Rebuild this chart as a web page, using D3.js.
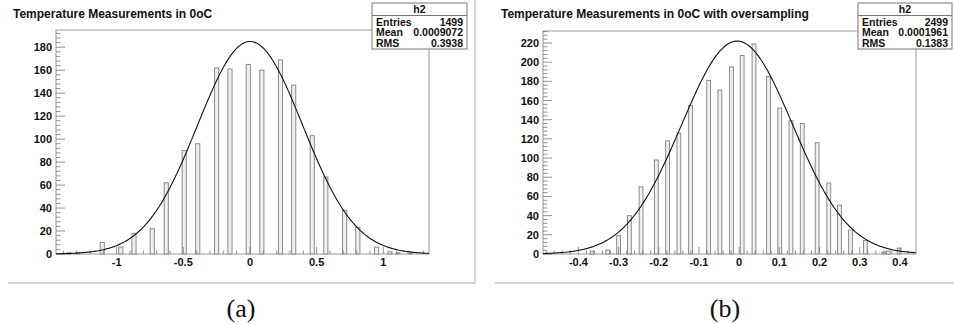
<!DOCTYPE html>
<html>
<head>
<meta charset="utf-8">
<script src="https://cdn.jsdelivr.net/npm/d3@7"></script>
<style>
  body { margin: 0; background: #fff; }
  svg { display: block; }
  .tick-label { font-family: "Liberation Sans", Arial, sans-serif; font-weight: bold; font-size: 11px; fill: #111; }
  .title { font-family: "Liberation Sans", Arial, sans-serif; font-weight: bold; font-size: 12px; fill: #111; }
  .stat { font-family: "Liberation Sans", Arial, sans-serif; font-weight: bold; font-size: 10.5px; fill: #111; }
  .caption { font-family: "Liberation Serif", "DejaVu Serif", serif; font-size: 26px; fill: #111; }
</style>
</head>
<body>
<div id="chart"></div>
<script>
// ---- panel (a): histogram without oversampling ----
const titleA = "Temperature Measurements in 0oC";
const binCentersA = [-1.36, -1.29, -1.108, -0.969, -0.870, -0.733, -0.628, -0.493, -0.392, -0.250,
  -0.150, -0.0125, 0.089, 0.229, 0.328, 0.467, 0.569, 0.710, 0.809, 0.950, 1.050, 1.11, 1.2];
const countsA = [1, 1, 10, 6, 18, 22, 62, 90, 96, 162,
  161, 165, 160, 169, 147, 103, 67, 38, 23, 6, 2, 1, 1];
const xTicksA = [-1, -0.5, 0, 0.5, 1];
const yTicksA = [0, 20, 40, 60, 80, 100, 120, 140, 160, 180];
const statLabels = ["Entries", "Mean", "RMS"];
const statValuesA = ["1499", "0.0009072", "0.3938"];
const fitA = { constant: 185, mean: 0.0009, sigma: 0.394 };

// ---- panel (b): histogram with oversampling ----
const titleB = "Temperature Measurements in 0oC with oversampling";
const binCentersB = [-0.366, -0.327, -0.300, -0.273, -0.244, -0.206, -0.178, -0.150, -0.121, -0.076,
  -0.048, -0.019, 0.0075, 0.037, 0.073, 0.101, 0.129, 0.157, 0.194, 0.223,
  0.2496, 0.277, 0.314, 0.36, 0.371, 0.398];
const countsB = [3, 4, 19, 40, 70, 98, 118, 126, 155, 181,
  171, 195, 207, 219, 185, 152, 139, 136, 116, 74,
  51, 25, 14, 2, 3, 6];
const xTicksB = [-0.4, -0.3, -0.2, -0.1, 0, 0.1, 0.2, 0.3, 0.4];
const yTicksB = [0, 20, 40, 60, 80, 100, 120, 140, 160, 180, 200, 220];
const statValuesB = ["2499", "0.0001961", "0.1383"];
const fitB = { constant: 222, mean: -0.005, sigma: 0.1383 };

const width = 954, height = 324;

const svg = d3.select("#chart")
  .append("svg")
    .attr("width", width)
    .attr("height", height);

function drawPanel(p) {
  const g = svg.append("g");

  const x = d3.scaleLinear().domain(p.xDomain).range([p.left, p.right]);
  const y = d3.scaleLinear().domain(p.yDomain).range([p.bottom, p.top]);

  // pad border (right + bottom shading)
  g.append("line")
    .attr("x1", p.padLeft).attr("x2", p.padRight)
    .attr("y1", 283).attr("y2", 283)
    .attr("stroke", "#c8c8c8").attr("stroke-width", 1.5);
  if (p.padRight < width) {
    g.append("line")
      .attr("x1", p.padRight).attr("x2", p.padRight)
      .attr("y1", 0).attr("y2", 283)
      .attr("stroke", "#c8c8c8").attr("stroke-width", 1.5);
  }

  // frame
  g.append("rect")
    .attr("x", p.left).attr("y", p.top)
    .attr("width", p.right - p.left).attr("height", p.bottom - p.top)
    .attr("fill", "none").attr("stroke", "#999").attr("stroke-width", 1);

  // bars
  g.selectAll("rect.bar")
    .data(p.centers.map((c, i) => [c, p.counts[i]]))
    .join("rect")
      .attr("class", "bar")
      .attr("x", d => x(d[0] - p.barWidth / 2))
      .attr("width", d => x(d[0] + p.barWidth / 2) - x(d[0] - p.barWidth / 2))
      .attr("y", d => y(d[1]))
      .attr("height", d => y(0) - y(d[1]))
      .attr("fill", "#f0f0f0")
      .attr("stroke", "#8a8a8a")
      .attr("stroke-width", 1);

  // y axis ticks (inside the frame)
  const yMinor = d3.range(p.yDomain[0], p.yDomain[1] + 1e-9, p.yMinorStep);
  g.selectAll("line.ymin")
    .data(yMinor)
    .join("line")
      .attr("x1", p.left).attr("x2", d => p.left + (p.yTicks.includes(Math.round(d)) ? 9 : 4.5))
      .attr("y1", d => y(d)).attr("y2", d => y(d))
      .attr("stroke", "#777").attr("stroke-width", 0.8);
  g.selectAll("text.ylab")
    .data(p.yTicks)
    .join("text")
      .attr("class", "tick-label")
      .attr("x", p.left - 4)
      .attr("y", d => y(d) + 4)
      .attr("text-anchor", "end")
      .text(d => d);

  // x axis ticks (inside the frame)
  const start = Math.ceil(p.xDomain[0] / p.xMinorStep) * p.xMinorStep;
  const xMinor = d3.range(start, p.xDomain[1], p.xMinorStep);
  const isMajor = v => p.xTicks.some(t => Math.abs(t - v) < p.xMinorStep / 10);
  g.selectAll("line.xmin")
    .data(xMinor)
    .join("line")
      .attr("x1", d => x(d)).attr("x2", d => x(d))
      .attr("y1", p.bottom).attr("y2", d => p.bottom - (isMajor(d) ? 7 : 3.5))
      .attr("stroke", "#777").attr("stroke-width", 0.8);
  g.selectAll("text.xlab")
    .data(p.xTicks)
    .join("text")
      .attr("class", "tick-label")
      .attr("x", d => x(d))
      .attr("y", p.bottom + 12)
      .attr("text-anchor", "middle")
      .text(d => d);

  // gaussian fit
  const fx = d3.range(0, 301).map(i => p.xDomain[0] + (p.xDomain[1] - p.xDomain[0]) * i / 300);
  const line = d3.line()
    .x(d => x(d))
    .y(d => y(p.fit.constant * Math.exp(-0.5 * Math.pow((d - p.fit.mean) / p.fit.sigma, 2))))
    .curve(d3.curveLinear);
  g.append("path")
    .datum(fx)
    .attr("d", line)
    .attr("fill", "none")
    .attr("stroke", "#111")
    .attr("stroke-width", 1.1);

  // title
  g.append("text")
    .attr("class", "title")
    .attr("x", p.titleX).attr("y", 18)
    .text(p.title);

  // stats box
  const sb = p.statBox;
  g.append("rect")
    .attr("x", sb.x).attr("y", sb.y).attr("width", sb.w).attr("height", sb.h)
    .attr("fill", "#fff").attr("stroke", "#777").attr("stroke-width", 1);
  g.append("line")
    .attr("x1", sb.x).attr("x2", sb.x + sb.w)
    .attr("y1", sb.y + 12.5).attr("y2", sb.y + 12.5)
    .attr("stroke", "#777").attr("stroke-width", 1);
  g.append("text")
    .attr("class", "stat")
    .attr("x", sb.x + sb.w / 2).attr("y", sb.y + 10)
    .attr("text-anchor", "middle")
    .text("h2");
  statLabels.forEach((lab, i) => {
    g.append("text").attr("class", "stat")
      .attr("x", sb.x + 4).attr("y", sb.y + 23 + i * 10.3)
      .text(lab);
    g.append("text").attr("class", "stat")
      .attr("x", sb.x + sb.w - 4).attr("y", sb.y + 23 + i * 10.3)
      .attr("text-anchor", "end")
      .text(p.statValues[i]);
  });

  // caption
  svg.append("text")
    .attr("class", "caption")
    .attr("x", p.captionX).attr("y", 317)
    .attr("text-anchor", "middle")
    .text(p.caption);
}

drawPanel({
  title: titleA, titleX: 13, caption: "(a)", captionX: 241,
  left: 56, right: 429, top: 30, bottom: 254,
  padLeft: 8, padRight: 475,
  xDomain: [-1.455, 1.343], yDomain: [0, 195],
  xTicks: xTicksA, yTicks: yTicksA, xMinorStep: 0.1, yMinorStep: 4,
  centers: binCentersA, counts: countsA, barWidth: 0.031,
  fit: fitA, statValues: statValuesA,
  statBox: { x: 372, y: 3, w: 95, h: 46 }
});

drawPanel({
  title: titleB, titleX: 501, caption: "(b)", captionX: 725,
  left: 543, right: 916, top: 31, bottom: 254,
  padLeft: 495, padRight: 954,
  xDomain: [-0.488, 0.440], yDomain: [0, 232.5],
  xTicks: xTicksB, yTicks: yTicksB, xMinorStep: 0.02, yMinorStep: 4,
  centers: binCentersB, counts: countsB, barWidth: 0.0095,
  fit: fitB, statValues: statValuesB,
  statBox: { x: 858, y: 3, w: 94, h: 46 }
});
</script>
</body>
</html>
